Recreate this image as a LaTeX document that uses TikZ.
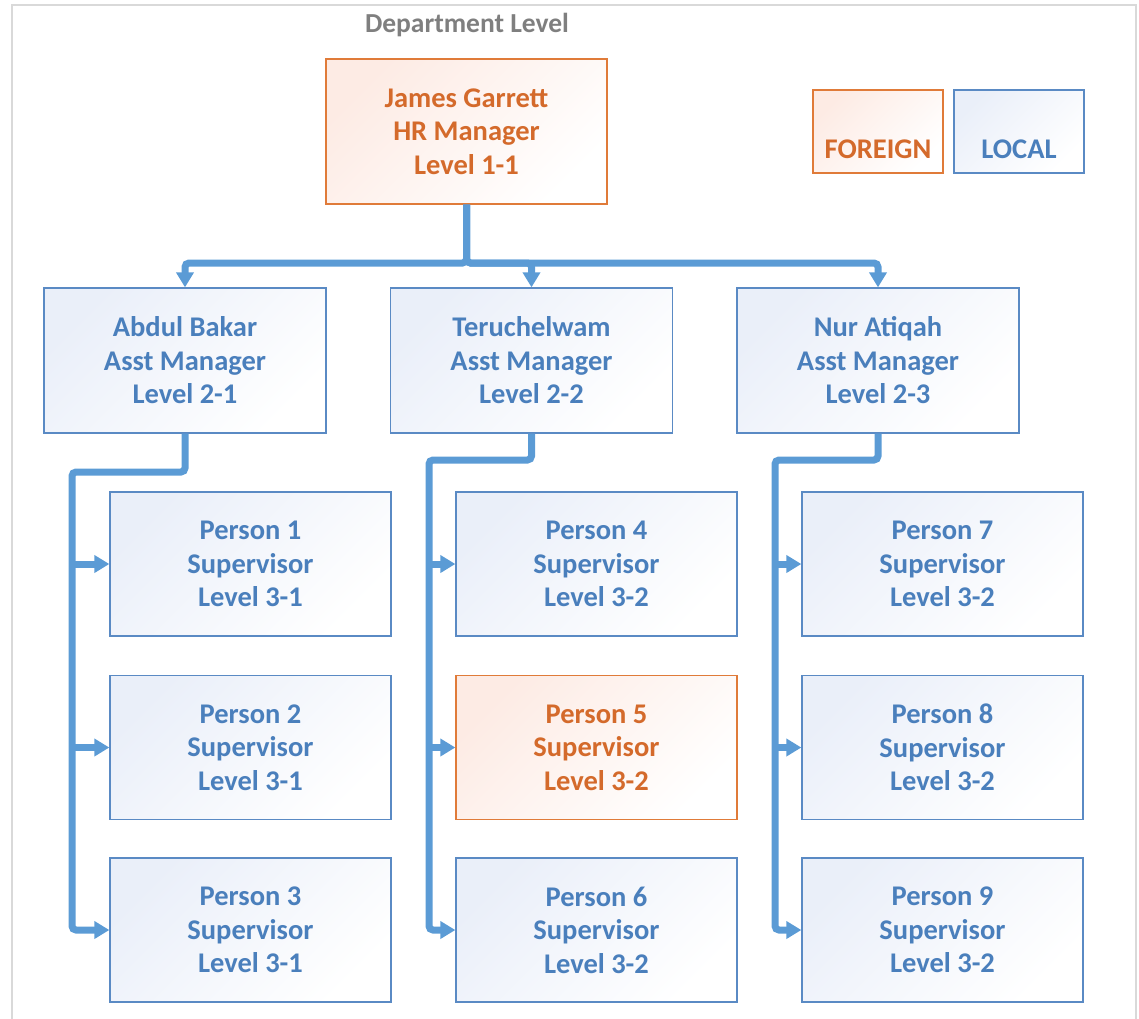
\documentclass[tikz,border=0pt]{standalone}
\usepackage{fontspec}
\setmainfont{Carlito}
\usetikzlibrary{arrows.meta}
\definecolor{linkblue}{HTML}{5B9BD5}
\definecolor{bordblue}{HTML}{5A8AC4}
\definecolor{txtblue}{HTML}{4A7FBC}
\definecolor{tintblue}{HTML}{EAEFF9}
\definecolor{bordorange}{HTML}{E07B39}
\definecolor{txtorange}{HTML}{D46A2B}
\definecolor{tintorange}{HTML}{FDEBE4}
\definecolor{framegray}{HTML}{D9D9D9}
\definecolor{titlegray}{HTML}{7F7F7F}
\tikzset{
  boxbase/.style={rectangle, line width=1.3pt, align=center, inner sep=0pt,
    font=\fontsize{28.5}{33.5}\selectfont\bfseries},
  localbox/.style={boxbase, draw=bordblue, text=txtblue,
    left color=tintblue, right color=white, shading angle=45},
  foreignbox/.style={boxbase, draw=bordorange, text=txtorange,
    left color=tintorange, right color=white, shading angle=45},
  midsize/.style={minimum width=282pt, minimum height=145pt},
  leafsize/.style={minimum width=281pt, minimum height=144pt},
  legsize/.style={minimum width=130pt, minimum height=83pt},
  conn/.style={draw=linkblue, line width=7pt, rounded corners=4pt,
    -{Triangle[length=15pt,width=17pt]}},
}
\begin{document}
\begin{tikzpicture}[x=1pt,y=-1pt]
\useasboundingbox (0,0) rectangle (1139,1018);
% frame
\draw[framegray, line width=2pt] (12,1030) -- (12,4.5) -- (1136,4.5) -- (1136,1030);
% title
\node[font=\fontsize{27.5}{30}\selectfont\bfseries, text=titlegray] (title) at (467,25) {Department Level};
% top
\node[foreignbox, minimum width=281pt, minimum height=145pt] (top) at (466.5,131.5) {James Garrett\\HR Manager\\Level 1-1};
% legend
\node[foreignbox, legsize] (fl) at (878,131.5) {\strut\\[-3pt]FOREIGN};
\node[localbox, legsize] (ll) at (1019,131.5) {\strut\\[-3pt]LOCAL};
% level 2
\node[localbox, midsize] (a1) at (185,360.5) {Abdul Bakar\\Asst Manager\\Level 2-1};
\node[localbox, midsize] (b1) at (531.5,360.5) {Teruchelwam\\Asst Manager\\Level 2-2};
\node[localbox, midsize] (c1) at (878,360.5) {Nur Atiqah\\Asst Manager\\Level 2-3};
% level 3
\node[localbox, leafsize] (p1) at (250.5,564) {Person 1\\Supervisor\\Level 3-1};
\node[localbox, leafsize] (p2) at (250.5,747.5) {Person 2\\Supervisor\\Level 3-1};
\node[localbox, leafsize] (p3) at (250.5,930) {Person 3\\Supervisor\\Level 3-1};
\node[localbox, leafsize] (p4) at (596.5,564) {Person 4\\Supervisor\\Level 3-2};
\node[foreignbox, leafsize] (p5) at (596.5,747.5) {Person 5\\Supervisor\\Level 3-2};
\node[localbox, leafsize] (p6) at (596.5,930) {Person 6\\Supervisor\\Level 3-2};
\node[localbox, leafsize] (p7) at (942.5,564) {Person 7\\Supervisor\\Level 3-2};
\node[localbox, leafsize] (p8) at (942.5,747.5) {Person 8\\Supervisor\\Level 3-2};
\node[localbox, leafsize] (p9) at (942.5,930) {Person 9\\Supervisor\\Level 3-2};
% junction coordinates
\coordinate (j0) at (466.5,263);
\coordinate (ja) at (72,472);
\coordinate (jb) at (429,460);
\coordinate (jc) at (775,460);
% top connectors
\draw[conn] (top.south) |- (j0) -| (a1.north);
\draw[conn] (top.south) |- (j0) -| (b1.north);
\draw[conn] (top.south) |- (j0) -| (c1.north);
% left column
\draw[conn] (a1.south) |- (ja) |- (p3.west);
\draw[conn] (p1.west -| ja) -- (p1.west);
\draw[conn] (p2.west -| ja) -- (p2.west);
% middle column
\draw[conn] (b1.south) |- (jb) |- (p6.west);
\draw[conn] (p4.west -| jb) -- (p4.west);
\draw[conn] (p5.west -| jb) -- (p5.west);
% right column
\draw[conn] (c1.south) |- (jc) |- (p9.west);
\draw[conn] (p7.west -| jc) -- (p7.west);
\draw[conn] (p8.west -| jc) -- (p8.west);
\end{tikzpicture}
\end{document}
